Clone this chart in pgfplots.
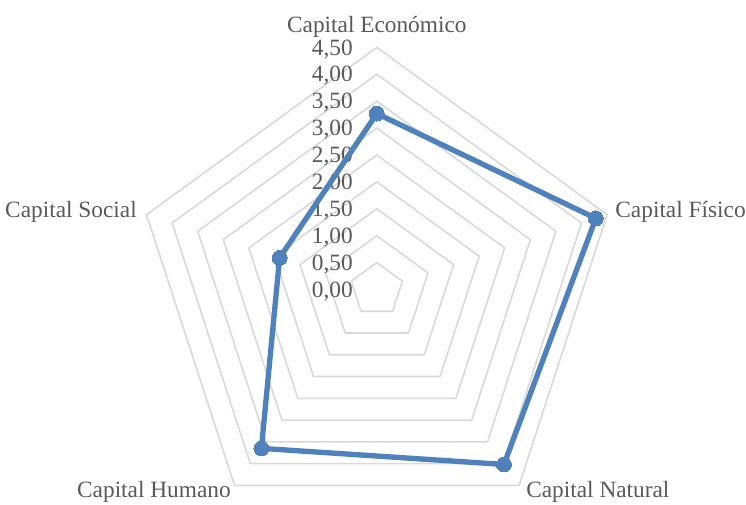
\documentclass[border=0pt]{standalone}
\usepackage{pgfplots}
\pgfplotsset{compat=1.18}
\usepgfplotslibrary{polar}
\usepackage{fontspec}
\setmainfont{Liberation Serif}
\definecolor{txtgray}{HTML}{595959}
\definecolor{gridgray}{HTML}{D9D9D9}
\definecolor{serblue}{HTML}{4F81BD}
\begin{document}
\begin{tikzpicture}[lab/.style={font=\fontsize{17.5}{21}\selectfont, text=txtgray, inner sep=0pt}]
\begin{axis}[
  x=40.35pt, y=40.35pt,
  xmin=-7.004, xmax=6.862, ymin=-3.987, ymax=5.381,
  hide axis, clip=false,
]
% pentagon grid
\pgfplotsset{gridline/.style={gridgray, line width=1.2pt, line join=miter, mark=none, data cs=polar}}
\addplot[gridline] coordinates {(90,0.5)(18,0.5)(-54,0.5)(-126,0.5)(162,0.5)(90,0.5)(18,0.5)};
\addplot[gridline] coordinates {(90,1.0)(18,1.0)(-54,1.0)(-126,1.0)(162,1.0)(90,1.0)(18,1.0)};
\addplot[gridline] coordinates {(90,1.5)(18,1.5)(-54,1.5)(-126,1.5)(162,1.5)(90,1.5)(18,1.5)};
\addplot[gridline] coordinates {(90,2.0)(18,2.0)(-54,2.0)(-126,2.0)(162,2.0)(90,2.0)(18,2.0)};
\addplot[gridline] coordinates {(90,2.5)(18,2.5)(-54,2.5)(-126,2.5)(162,2.5)(90,2.5)(18,2.5)};
\addplot[gridline] coordinates {(90,3.0)(18,3.0)(-54,3.0)(-126,3.0)(162,3.0)(90,3.0)(18,3.0)};
\addplot[gridline] coordinates {(90,3.5)(18,3.5)(-54,3.5)(-126,3.5)(162,3.5)(90,3.5)(18,3.5)};
\addplot[gridline] coordinates {(90,4.0)(18,4.0)(-54,4.0)(-126,4.0)(162,4.0)(90,4.0)(18,4.0)};
\addplot[gridline] coordinates {(90,4.5)(18,4.5)(-54,4.5)(-126,4.5)(162,4.5)(90,4.5)(18,4.5)};
% value labels
\node[lab, anchor=base east] at (axis cs:-0.443,-0.143) {0,00};
\node[lab, anchor=base east] at (axis cs:-0.443,0.357) {0,50};
\node[lab, anchor=base east] at (axis cs:-0.443,0.857) {1,00};
\node[lab, anchor=base east] at (axis cs:-0.443,1.357) {1,50};
\node[lab, anchor=base east] at (axis cs:-0.443,1.857) {2,00};
\node[lab, anchor=base east] at (axis cs:-0.443,2.357) {2,50};
\node[lab, anchor=base east] at (axis cs:-0.443,2.857) {3,00};
\node[lab, anchor=base east] at (axis cs:-0.443,3.357) {3,50};
\node[lab, anchor=base east] at (axis cs:-0.443,3.857) {4,00};
\node[lab, anchor=base east] at (axis cs:-0.443,4.357) {4,50};
% data series
\addplot[serblue, line width=4pt, line join=round, data cs=polar,
  mark=*, mark size=5.6pt, mark options={fill=serblue, draw=serblue, line width=0pt}]
  coordinates {(90,3.27)(18,4.28)(-54,4.02)(-126,3.65)(162,1.90)(90,3.27)};
% category labels
\node[lab, anchor=base] at (axis cs:0,4.786) {Capital Económico};
\node[lab, anchor=base west] at (axis cs:4.43,1.329) {Capital Físico};
\node[lab, anchor=base west] at (axis cs:2.773,-3.875) {Capital Natural};
\node[lab, anchor=base east] at (axis cs:-2.710,-3.875) {Capital Humano};
\node[lab, anchor=base east] at (axis cs:-4.457,1.329) {Capital Social};
\end{axis}
\pgfresetboundingbox
\path[use as bounding box] (current axis.south west) rectangle (current axis.north east);
\end{tikzpicture}
\end{document}
